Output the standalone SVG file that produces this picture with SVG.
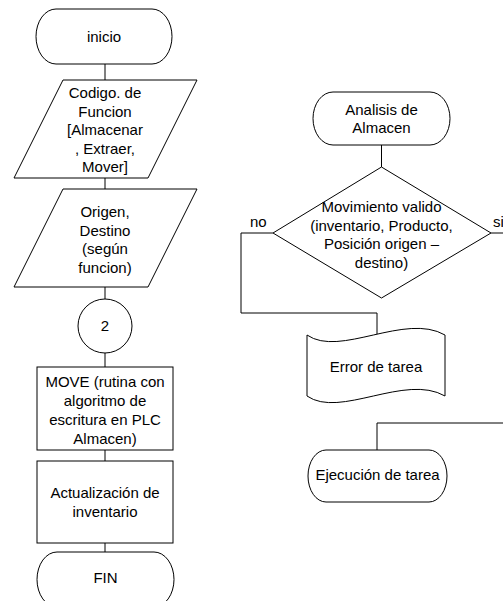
<svg xmlns="http://www.w3.org/2000/svg" width="503" height="601" viewBox="0 0 503 601">
  <style>
    .shape { fill: #ffffff; stroke: #000000; stroke-width: 1; }
    .wire { fill: none; stroke: #000000; stroke-width: 1; }
    text { font-family: "Liberation Sans", Arial, sans-serif; font-size: 15px; fill: #000000; text-anchor: middle; }
    .lbl { text-anchor: start; }
  </style>
  <rect width="503" height="601" fill="#ffffff"/>

  <!-- connectors -->
  <g id="connectors">
    <path class="wire" d="M105,64 V80"/>
    <path class="wire" d="M105,178 V189"/>
    <path class="wire" d="M105,287 V299"/>
    <path class="wire" d="M105,353 V367"/>
    <path class="wire" d="M105,450 V461"/>
    <path class="wire" d="M105,543 V552"/>
    <path class="wire" d="M381.5,145 V167"/>
    <path class="wire" d="M273,233 H241 V313 H377 V338"/>
    <path class="wire" d="M491,233 H510 V423 H377 V450"/>
  </g>

  <!-- left column -->
  <g id="inicio">
    <rect class="shape" x="36" y="9" width="136" height="55" rx="20" ry="27.5"/>
    <text x="104" y="42">inicio</text>
  </g>
  <g id="codigo-funcion">
    <polygon class="shape" points="63,80 197,80 148,178 14,178"/>
    <text x="105" y="98">Codigo. de</text>
    <text x="105" y="116.6">Funcion</text>
    <text x="105" y="135.2">[Almacenar</text>
    <text x="105" y="153.8">, Extraer,</text>
    <text x="105" y="172.4">Mover]</text>
  </g>
  <g id="origen-destino">
    <polygon class="shape" points="63,189 197,189 148,287 14,287"/>
    <text x="105" y="217">Origen,</text>
    <text x="105" y="235.5">Destino</text>
    <text x="105" y="254">(según</text>
    <text x="105" y="272.5">funcion)</text>
  </g>
  <g id="conector-2">
    <circle class="shape" cx="105" cy="326" r="27"/>
    <text x="105" y="331">2</text>
  </g>
  <g id="move">
    <rect class="shape" x="37" y="367" width="136" height="83"/>
    <text x="105" y="387">MOVE (rutina con</text>
    <text x="105" y="406">algoritmo de</text>
    <text x="105" y="425">escritura en PLC</text>
    <text x="105" y="444">Almacen)</text>
  </g>
  <g id="actualizacion">
    <rect class="shape" x="37" y="461" width="136" height="82"/>
    <text x="105" y="498">Actualización de</text>
    <text x="105" y="517">inventario</text>
  </g>
  <g id="fin">
    <rect class="shape" x="37" y="552" width="137" height="55" rx="20" ry="27.5"/>
    <text x="105.5" y="583">FIN</text>
  </g>

  <!-- right column -->
  <g id="analisis">
    <rect class="shape" x="313" y="92" width="137" height="53" rx="20" ry="26.5"/>
    <text x="381.5" y="115">Analisis de</text>
    <text x="381.5" y="133">Almacen</text>
  </g>
  <g id="decision">
    <polygon class="shape" points="381.5,167 491,233 381.5,298 273,233"/>
    <text x="381.5" y="212">Movimiento valido</text>
    <text x="381.5" y="230.5">(inventario, Producto,</text>
    <text x="381.5" y="249">Posición origen –</text>
    <text x="381.5" y="267.5">destino)</text>
  </g>
  <g id="labels">
    <text class="lbl" x="250" y="227">no</text>
    <text class="lbl" x="493" y="227">si</text>
  </g>
  <g id="error-tarea">
    <path class="shape" d="M307,335 C340,358 405,312 445,335 V396 C405,373 340,419 307,396 Z"/>
    <text x="376" y="372">Error de tarea</text>
  </g>
  <g id="ejecucion">
    <rect class="shape" x="308" y="450" width="139" height="52" rx="18" ry="26"/>
    <text x="377.5" y="480">Ejecución de tarea</text>
  </g>
</svg>
